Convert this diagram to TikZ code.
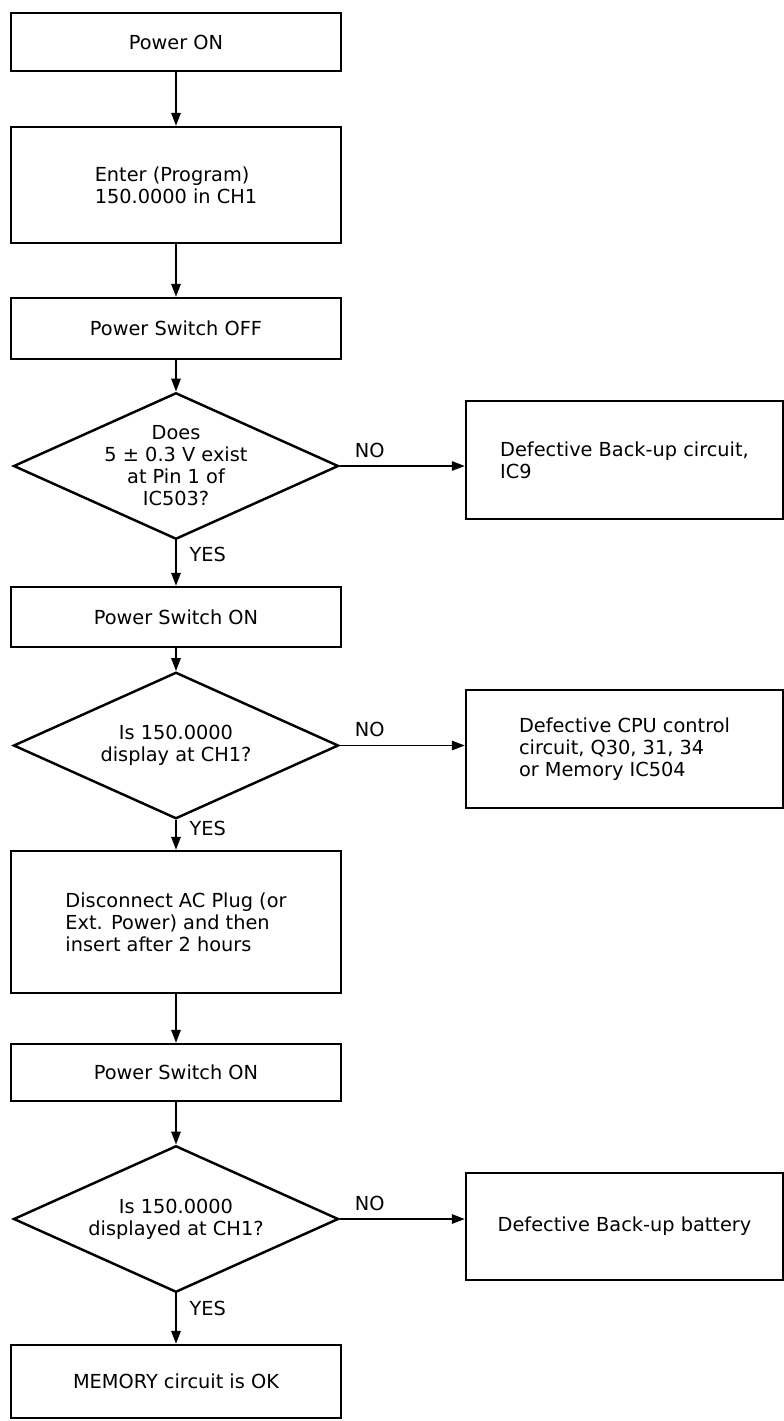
\documentclass[tikz,border=0pt]{standalone}
\usepackage{fontspec}
\setmainfont{DejaVu Sans}
\usetikzlibrary{shapes.geometric, positioning, arrows.meta}
\tikzset{
  stepbox/.style={draw, line width=1.4pt, minimum width=6.6cm, align=center, inner sep=2pt},
  decision/.style={draw, diamond, line width=1.4pt, minimum width=6.5cm, minimum height=2.93cm,
    aspect=2.2, inner sep=0pt, align=center},
  faultbox/.style={draw, line width=1.4pt, minimum width=6.34cm, align=left},
  flow/.style={line width=0.9pt, -{Triangle[length=2.6mm, width=1.9mm]}},
  yes/.style={pos=0.3, right=4pt},
  no/.style={pos=0.24, above=1pt},
}

\begin{document}
\begin{tikzpicture}[every node/.append style={font=\fontsize{11}{12.5}\selectfont}]
        \useasboundingbox (0,0) rectangle (15.68,-28.42);
        % Main column
        \node[stepbox, minimum height=1.16cm] (pon) at (3.52,-0.84) {Power ON};
        \node[stepbox, minimum height=2.32cm, align=left] (enter) at (3.52,-3.70) {Enter (Program)\\150.0000 in CH1};
        \node[stepbox, minimum height=1.22cm] (psoff) at (3.52,-6.57) {Power Switch OFF};
        \node[decision] (d1) at (3.52,-9.32) {Does\\5 ± 0.3 V exist\\at Pin 1 of\\IC503?};
        \node[stepbox, minimum height=1.2cm] (pson) at (3.52,-12.34) {Power Switch ON};
        \node[decision] (d2) at (3.52,-14.91) {Is 150.0000\\display at CH1?};
        \node[stepbox, minimum height=2.84cm, align=left] (unplug) at (3.52,-18.44) {Disconnect AC Plug (or\\Ext. Power) and then\\insert after 2 hours};
        \node[stepbox, minimum height=1.14cm] (psonb) at (3.52,-21.45) {Power Switch ON};
        \node[decision] (d3) at (3.52,-24.38) {Is 150.0000\\displayed at CH1?};
        \node[stepbox, minimum height=1.46cm] (memok) at (3.52,-27.63) {MEMORY circuit is OK};
        % Fault boxes
        \node[faultbox, minimum height=2.36cm] (backup) at (12.49,-9.2) {Defective Back-up circuit,\\IC9};
        \node[faultbox, minimum height=2.36cm] (cpu) at (12.49,-14.98) {Defective CPU control\\circuit, Q30, 31, 34\\or Memory IC504};
        \node[faultbox, minimum height=2.14cm] (battery) at (12.49,-24.53) {Defective Back-up battery};
        % Arrows
        \draw[flow] (pon) -- (enter);
        \draw[flow] (enter) -- (psoff);
        \draw[flow] (psoff) -- (d1);
        \draw[flow] (d1) -- node[yes] {YES} (pson);
        \draw[flow] (d1.east) -- node[no] {NO} (d1.east -| backup.west);
        \draw[flow] (pson) -- (d2);
        \draw[flow] (d2) -- node[yes] {YES} (unplug);
        \draw[flow] (d2.east) -- node[no] {NO} (d2.east -| cpu.west);
        \draw[flow] (unplug) -- (psonb);
        \draw[flow] (psonb) -- (d3);
        \draw[flow] (d3) -- node[yes] {YES} (memok);
        \draw[flow] (d3.east) -- node[no] {NO} (d3.east -| battery.west);
    \end{tikzpicture}
\end{document}
